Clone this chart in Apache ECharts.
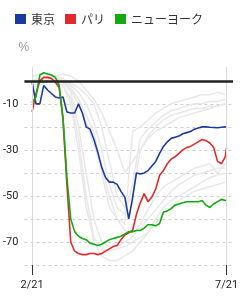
<!DOCTYPE html>
<html><head><meta charset="utf-8">
<script src="https://cdn.jsdelivr.net/npm/echarts@6/dist/echarts.min.js"></script>
<style>html,body{margin:0;padding:0;background:#fff}#c{width:250px;height:305px}</style>
</head><body><div id="c"></div>
<script>
// day offsets from 2/21
const days = [0,3,6,9,12,15,18,21,24,27,30,33,36,39,42,45,48,51,54,57,60,63,66,69,72,75,78,81,84,87,90,93,96,99,102,105,108,111,114,117,120,123,126,129,132,135,138,141,144,147,150,151];
const tokyo = [-0.5,-10,-10,-2,-4,-5.5,-7,-7.5,-7,-13.5,-14,-14,-10,-14,-20,-21,-25.5,-31,-37.5,-42,-44,-44,-45,-48,-50.5,-60,-51,-40,-40.5,-40,-39,-37,-35,-31.5,-28.5,-26.5,-25,-24.5,-24,-23,-22.5,-22,-21,-20.5,-20,-20,-20.2,-20.3,-20.4,-20.2,-20,-20];
const paris = [-13.5,-5.5,0,1.5,1.5,1,-0.5,-3,-17,-45,-70,-74,-75,-75.5,-75.5,-75,-75,-75.5,-75,-74,-73,-72,-71.5,-69,-67,-66,-65,-58,-53,-49,-52.5,-50.5,-47,-41,-39,-36,-34,-33,-31.5,-30,-29,-28.5,-27.5,-26.5,-25.5,-26,-27,-29,-35,-36,-33,-29];
const newyork = [-9.5,-7,2.5,3.5,3,2.5,1.5,-2,-16,-42,-60,-65.5,-67.5,-68.5,-69,-70.5,-71,-71.5,-71,-70,-69,-68.5,-68,-67.5,-66.5,-65.5,-65.5,-65,-65,-64,-62.5,-62.5,-63,-62,-57,-56.5,-55.5,-54,-53.5,-53,-52.5,-52.5,-52.5,-52.5,-52,-54,-55,-53.5,-52.5,-51.5,-52,-52];
// other cities (grey)
const grayDays = [0,6,12,18,24,30,36,42,48,54,60,66,72,78,84,90,96,102,108,114,120,126,132,138,144,150];
const grayA = [2,3,3,2,0,-3,-8,-15,-22,-40,-55,-60,-62,-22,-20,-17,-14,-12,-10,-9,-8,-7,-6,-6,-5,-6];
const grayB = [0,1,2,2,1,-2,-5,-10,-18,-30,-45,-55,-58,-45,-25,-21,-18,-15,-13,-12,-11,-10,-10,-9,-9,-8];
const grayC = [-1,0,1,1,0,-1,-3,-6,-10,-20,-35,-50,-55,-50,-30,-24,-20,-17,-15,-14,-13,-12,-12,-11,-11,-10];
const grayD = [0,1,2,1,0,-5,-20,-40,-60,-70,-72,-72,-70,-68,-62,-56,-50,-46,-44,-42,-40,-38,-37,-36,-40,-36];
const grayE = [0,0,1,0,-2,-10,-30,-55,-70,-76,-78,-78,-76,-74,-70,-66,-60,-55,-52,-50,-48,-46,-44,-42,-41,-40];
const grayF = [-2,-1,0,0,-2,-8,-25,-50,-68,-73,-74,-73,-72,-70,-68,-66,-62,-58,-55,-52,-50,-48,-47,-46,-45,-44];
const grayG = [-1,0,1,1,-1,-4,-10,-18,-28,-38,-50,-60,-65,-66,-64,-60,-56,-52,-48,-45,-43,-41,-40,-39,-38,-38];
const grayH = [-3,-2,0,2,3,2,0,-4,-8,-14,-22,-30,-40,-35,-30,-25,-22,-20,-18,-16,-15,-14,-13,-12,-11,-10];
const grays = [grayA,grayB,grayC,grayD,grayE,grayF,grayG,grayH];
const names = ['東京','パリ','ニューヨーク'];
const xTickDays = [0,151];
const xTickLabels = ['2/21','7/21'];
const yTickLabels = [-10,-30,-50,-70];

const pair = (xs, ys) => xs.map((x,i)=>[x, ys[i]]);
const series = [];
grays.forEach((g,i)=>{
  const s = {type:'line', data:pair(grayDays,g), symbol:'none', silent:true,
    lineStyle:{color:'#e8e8e8', width:1.5}, itemStyle:{color:'#e8e8e8'}, z:1};
  if (i===0) s.markLine = {silent:true, symbol:'none', label:{show:false},
    lineStyle:{color:'#d9d9d9', width:1, type:'solid'},
    data: xTickDays.map(d=>({xAxis:d}))};
  series.push(s);
});
const colors = ['#1b3a9f','#e3282b','#12aa12'];
[tokyo,paris,newyork].forEach((v,i)=>{
  series.push({name:names[i], type:'line', data:pair(days,v), symbol:'none',
    lineStyle:{color:colors[i], width:1.6}, itemStyle:{color:colors[i]}, z:3});
});
series[series.length-1].markLine = {silent:true, symbol:'none', label:{show:false},
  lineStyle:{color:'#222', width:2.5, type:'solid'}, data:[{yAxis:0}]};

const chart = echarts.init(document.getElementById('c'), null, {renderer:'canvas'});
chart.setOption({
  animation:false,
  legend:{data:names, left:10, top:8, itemWidth:11, itemHeight:10, itemGap:10,
    icon:'rect', textStyle:{fontSize:12, color:'#333', fontFamily:'Noto Sans CJK JP'}},
  grid:{left:23, right:17, top:67, bottom:40},
  xAxis:{type:'value', min:-6, max:156,
    axisLine:{show:true, onZero:false, lineStyle:{color:'rgba(0,0,0,0)'}},
    axisTick:{show:true, customValues:xTickDays, length:10, lineStyle:{color:'#333', width:1}},
    axisLabel:{customValues:xTickDays, margin:15, fontSize:11, color:'#222', fontFamily:'Roboto',
      formatter:v=>xTickLabels[xTickDays.indexOf(v)] ?? ''},
    splitLine:{show:false}},
  yAxis:{type:'value', min:-80, max:6, interval:10,
    name:'%', nameLocation:'end', nameGap:19,
    nameTextStyle:{color:'#999', fontSize:12, align:'right', verticalAlign:'middle', padding:[0,3,0,0]},
    axisLine:{show:false}, axisTick:{show:false},
    axisLabel:{margin:6, fontSize:11, color:'#222', fontFamily:'Roboto', showMaxLabel:false,
      formatter:v=>yTickLabels.includes(v)? String(v) : ''},
    splitLine:{show:true, showMaxLine:false, lineStyle:{color:'#cfcfcf', type:[3,3], width:1}}},
  series
});
</script></body></html>
